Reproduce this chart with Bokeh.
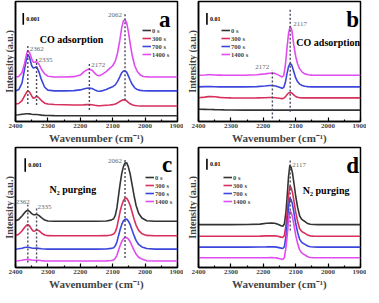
from bokeh.plotting import figure
from bokeh.models import Range1d, FixedTicker, Label, Legend, LegendItem
from bokeh.layouts import gridplot
from bokeh.embed import file_html
from bokeh.resources import INLINE

SERIES = ["0 s", "300 s", "700 s", "1400 s"]
COLORS = ["#333333", "#d8305c", "#3c46dc", "#e04cf0"]
XTICKS = [2400, 2300, 2200, 2100, 2000, 1900]
XMINOR = [2350, 2250, 2150, 2050, 1950]

# ---------------- panel a : CO adsorption (units of 0.001) ----------------
wn_a = [2400, 2390, 2380, 2372, 2366, 2362, 2357, 2350, 2345, 2340,
        2335, 2328, 2320, 2310, 2300, 2280, 2250, 2220, 2200, 2190,
        2180, 2172, 2164, 2155, 2147, 2140, 2130, 2120, 2110, 2100,
        2092, 2085, 2078, 2072, 2067, 2062, 2057, 2052, 2046, 2040,
        2032, 2024, 2015, 2005, 1990, 1970, 1940, 1900]
a_0s = [0.56, 0.58, 0.62, 0.65, 0.67, 0.67, 0.66, 0.62, 0.6, 0.6,
        0.6, 0.58, 0.55, 0.53, 0.52, 0.51, 0.5, 0.5, 0.5, 0.5,
        0.5, 0.5, 0.5, 0.5, 0.5, 0.5, 0.5, 0.5, 0.5, 0.5,
        0.5, 0.5, 0.5, 0.5, 0.5, 0.5, 0.5, 0.5, 0.5, 0.5,
        0.5, 0.5, 0.5, 0.5, 0.5, 0.5, 0.5, 0.5]
a_300s = [1.5, 1.55, 1.8, 2.2, 2.5, 2.64, 2.55, 2.2, 2.0, 2.05,
          2.17, 2.05, 1.8, 1.58, 1.5, 1.46, 1.44, 1.42, 1.42, 1.43,
          1.45, 1.46, 1.44, 1.4, 1.37, 1.36, 1.38, 1.4, 1.42, 1.45,
          1.5, 1.6, 1.72, 1.82, 1.86, 1.85, 1.78, 1.65, 1.52, 1.44,
          1.38, 1.35, 1.34, 1.33, 1.33, 1.33, 1.33, 1.33]
a_700s = [2.62, 2.75, 3.3, 4.5, 5.4, 5.75, 5.55, 4.8, 4.6, 4.65,
          4.72, 4.3, 3.6, 2.95, 2.7, 2.64, 2.64, 2.66, 2.72, 2.8,
          2.86, 2.87, 2.84, 2.72, 2.62, 2.6, 2.66, 2.76, 2.88, 3.0,
          3.15, 3.45, 3.85, 4.2, 4.35, 4.36, 4.25, 3.95, 3.55, 3.2,
          2.9, 2.75, 2.68, 2.65, 2.64, 2.64, 2.64, 2.64]
a_1400s = [3.83, 3.88, 4.2, 5.0, 5.8, 6.1, 5.95, 5.4, 5.1, 5.1,
           5.17, 4.95, 4.5, 4.1, 3.9, 3.83, 3.83, 3.86, 4.0, 4.25,
           4.45, 4.5, 4.42, 4.15, 3.96, 3.95, 4.1, 4.3, 4.55, 4.8,
           5.2, 5.9, 7.0, 8.1, 8.65, 8.75, 8.5, 7.8, 6.7, 5.7,
           4.8, 4.3, 4.0, 3.88, 3.84, 3.83, 3.83, 3.83]
peaks_a = [2362, 2335, 2172, 2062]

# ---------------- panel b : CO adsorption (units of 0.01) ----------------
wn_b = [2400, 2380, 2370, 2362, 2350, 2335, 2320, 2300, 2260, 2220,
        2195, 2180, 2172, 2162, 2150, 2142, 2137, 2132, 2127, 2122,
        2117, 2112, 2106, 2100, 2094, 2088, 2080, 2072, 2062, 2050,
        2030, 2000, 1960, 1900]
b_0s = [1.06, 1.04, 1.03, 1.03, 1.02, 1.01, 1.0, 0.99, 0.98, 0.98,
        0.98, 0.98, 0.98, 0.98, 0.98, 0.98, 0.98, 0.98, 0.98, 0.98,
        0.98, 0.98, 0.98, 0.98, 0.98, 0.98, 0.98, 0.98, 0.98, 0.98,
        0.98, 0.98, 0.98, 0.98]
b_300s = [2.05, 2.1, 2.14, 2.15, 2.13, 2.08, 2.05, 2.03, 2.02, 2.03,
          2.05, 2.06, 2.06, 2.04, 2.0, 1.97, 2.0, 2.12, 2.3, 2.45,
          2.5, 2.45, 2.3, 2.15, 2.08, 2.05, 2.03, 2.03, 2.03, 2.03,
          2.03, 2.03, 2.03, 2.03]
b_700s = [2.98, 3.0, 3.0, 3.0, 2.99, 2.98, 2.98, 2.98, 2.98, 3.0,
          3.05, 3.1, 3.1, 3.06, 2.95, 2.86, 2.92, 3.35, 4.1, 4.75,
          5.0, 4.85, 4.3, 3.75, 3.42, 3.22, 3.1, 3.04, 3.0, 2.98,
          2.98, 2.98, 2.98, 2.98]
b_1400s = [3.98, 4.0, 4.02, 4.03, 4.0, 3.99, 3.98, 3.98, 3.98, 4.02,
           4.1, 4.16, 4.17, 4.12, 3.95, 3.83, 3.95, 4.8, 6.3, 7.6,
           8.19, 7.9, 6.6, 5.6, 4.95, 4.55, 4.25, 4.1, 4.02, 3.99,
           3.98, 3.98, 3.98, 3.98]
peaks_b = [2117, 2172]

# ---------------- panel c : N2 purging (units of 0.001) ----------------
wn_c = [2400, 2390, 2380, 2372, 2366, 2362, 2357, 2350, 2345, 2340,
        2335, 2328, 2320, 2310, 2300, 2280, 2250, 2200, 2150, 2120,
        2105, 2097, 2092, 2087, 2082, 2077, 2072, 2067, 2062, 2057,
        2052, 2046, 2040, 2034, 2028, 2020, 2010, 1995, 1970, 1940, 1900]
c_0s = [3.45, 3.55, 3.8, 4.05, 4.18, 4.21, 4.15, 3.98, 3.9, 3.9,
        3.93, 3.85, 3.68, 3.5, 3.43, 3.41, 3.41, 3.41, 3.41, 3.43,
        3.5, 3.6, 3.85, 4.4, 5.3, 6.2, 6.95, 7.45, 7.72, 7.74,
        7.45, 6.9, 6.1, 5.3, 4.6, 4.0, 3.65, 3.45, 3.41, 3.41, 3.41]
c_300s = [2.36, 2.45, 2.7, 2.95, 3.12, 3.16, 3.08, 2.82, 2.68, 2.7,
          2.8, 2.72, 2.55, 2.4, 2.35, 2.34, 2.34, 2.34, 2.34, 2.35,
          2.4, 2.47, 2.63, 2.98, 3.55, 4.15, 4.6, 4.93, 5.1, 5.12,
          4.93, 4.58, 4.08, 3.57, 3.13, 2.74, 2.5, 2.37, 2.34, 2.34, 2.34]
c_700s = [1.36, 1.38, 1.42, 1.47, 1.5, 1.5, 1.48, 1.44, 1.42, 1.42,
          1.43, 1.41, 1.39, 1.37, 1.36, 1.36, 1.36, 1.36, 1.36, 1.37,
          1.41, 1.46, 1.6, 1.88, 2.35, 2.8, 3.18, 3.44, 3.56, 3.57,
          3.44, 3.16, 2.75, 2.35, 2.0, 1.7, 1.52, 1.4, 1.36, 1.36, 1.36]
c_1400s = [0.48, 0.5, 0.53, 0.57, 0.59, 0.59, 0.58, 0.55, 0.53, 0.53,
           0.54, 0.53, 0.51, 0.49, 0.48, 0.48, 0.48, 0.48, 0.48, 0.49,
           0.52, 0.56, 0.68, 0.9, 1.27, 1.62, 1.92, 2.12, 2.2, 2.21,
           2.12, 1.9, 1.58, 1.27, 1.0, 0.76, 0.62, 0.5, 0.48, 0.48, 0.48]
peaks_c = [2362, 2335, 2062]

# ---------------- panel d : N2 purging (units of 0.01) ----------------
wn_d = [2400, 2300, 2250, 2210, 2190, 2175, 2165, 2155, 2145, 2140,
        2135, 2130, 2126, 2122, 2118, 2114, 2110, 2105, 2100, 2094,
        2088, 2082, 2076, 2070, 2063, 2055, 2045, 2030, 2000, 1950, 1900]
d_0s = [3.85, 3.85, 3.86, 3.9, 3.97, 4.0, 3.98, 3.88, 3.75, 3.71,
        3.9, 5.0, 6.5, 8.2, 9.19, 9.0, 8.5, 7.5, 6.4, 5.4,
        4.65, 4.35, 4.22, 4.1, 3.95, 3.88, 3.86, 3.85, 3.85, 3.85, 3.85]
d_300s = [2.81, 2.81, 2.81, 2.82, 2.84, 2.85, 2.84, 2.8, 2.73, 2.7,
          2.86, 3.8, 5.05, 6.5, 7.33, 7.17, 6.75, 5.9, 4.98, 4.13,
          3.5, 3.25, 3.14, 3.04, 2.91, 2.84, 2.82, 2.81, 2.81, 2.81, 2.81]
d_700s = [1.83, 1.83, 1.83, 1.84, 1.85, 1.86, 1.85, 1.81, 1.74, 1.71,
          1.87, 2.8, 4.0, 5.45, 6.23, 6.08, 5.68, 4.85, 3.95, 3.15,
          2.55, 2.28, 2.15, 2.05, 1.93, 1.86, 1.84, 1.83, 1.83, 1.83, 1.83]
d_1400s = [0.87, 0.87, 0.87, 0.87, 0.88, 0.89, 0.88, 0.84, 0.76, 0.72,
           0.88, 1.8, 2.95, 4.3, 5.07, 4.93, 4.55, 3.75, 2.9, 2.15,
           1.6, 1.33, 1.2, 1.1, 0.97, 0.9, 0.88, 0.87, 0.87, 0.87, 0.87]
peaks_d = [2117]

# ---------------- layout / annotation placement ----------------
FIG_W, FIG_H = 183, 146
BL, BR, BT, BB = 14, 6, 1, 24
FRAME_H = FIG_H - BT - BB
SERIF = "Liberation Serif"

panels = [
    dict(wn=wn_a, ys=[a_0s, a_300s, a_700s, a_1400s], ytop=10.33, peaks=peaks_a,
         dash=[(1.5, 6.58), (1.42, 5.42), (1.0, 5.0), (1.83, 9.33)],
         plab=[("left", 2, 6.25), ("left", 2, 5.33), ("left", 2, 4.83), ("right", -3, 9.17)],
         bar=(2376, 8.33), barlab="0.001", letter=("a", 1939, 8.8),
         title=("CO adsorption", 2325, 7.08), leg=(127, 30)),
    dict(wn=wn_b, ys=[b_0s, b_300s, b_700s, b_1400s], ytop=10.33, peaks=peaks_b,
         dash=[(0.83, 9.75), (0.25, 4.42)],
         plab=[("left", 3, 8.42), ("right", -3, 4.67)],
         bar=(2374, 8.33), barlab="0.01", letter=("b", 1924, 8.75),
         title=("CO adsorption", 2098, 6.8), leg=(23, 30)),
    dict(wn=wn_c, ys=[c_0s, c_300s, c_700s, c_1400s], ytop=8.86, peaks=peaks_c,
         dash=[(0.36, 4.64), (0.36, 4.43), (0.71, 8.07)],
         plab=[("right", 2, 4.86), ("left", 1, 4.5), ("right", -3, 7.86)],
         bar=(2370, 7.07), barlab="0.001", letter=("c", 1932, 7.62),
         title=("N\u2082 purging", 2295, 5.76), leg=(130, 31)),
    dict(wn=wn_d, ys=[d_0s, d_300s, d_700s, d_1400s], ytop=10.78, peaks=peaks_d,
         dash=[(3.33, 9.71)],
         plab=[("left", 2, 9.19)],
         bar=(2374, 8.78), barlab="0.01", letter=("d", 1924, 9.13),
         title=("N\u2082 purging", 2078, 6.96), leg=(25, 31)),
]


def make_panel(cfg):
    p = figure(width=FIG_W, height=FIG_H, output_backend="svg", toolbar_location=None,
               x_range=Range1d(2400, 1900), y_range=Range1d(0, cfg["ytop"]),
               min_border_left=BL, min_border_right=BR, min_border_top=BT,
               min_border_bottom=BB)
    p.grid.visible = False
    p.outline_line_color = "black"
    p.outline_line_width = 1.5
    p.background_fill_color = "white"
    p.border_fill_color = "white"

    xa = p.xaxis[0]
    xa.ticker = FixedTicker(ticks=XTICKS, minor_ticks=XMINOR)
    xa.major_tick_in = 4
    xa.major_tick_out = 0
    xa.minor_tick_in = 2
    xa.minor_tick_out = 0
    xa.major_tick_line_width = 1.2
    xa.minor_tick_line_width = 1.2
    xa.axis_line_width = 1.5
    xa.major_label_text_font = SERIF
    xa.major_label_text_font_style = "bold"
    xa.major_label_text_font_size = "7px"
    xa.major_label_standoff = 2
    xa.axis_label = "Wavenumber (cm\u207b\u00b9)"
    xa.axis_label_text_font = SERIF
    xa.axis_label_text_font_style = "bold"
    xa.axis_label_text_font_size = "11px"
    xa.axis_label_standoff = 1

    ya = p.yaxis[0]
    ya.ticker = FixedTicker(ticks=[])
    ya.major_tick_out = 0
    ya.minor_tick_out = 0
    ya.axis_line_width = 1.5
    ya.major_label_standoff = 0
    ya.axis_label = "Intensity (a.u.)"
    ya.axis_label_text_font = SERIF
    ya.axis_label_text_font_style = "bold"
    ya.axis_label_text_font_size = "10px"
    ya.axis_label_standoff = 1

    wn = cfg["wn"]
    renderers = []
    for ys, col in zip(cfg["ys"], COLORS):
        r = p.line(wn, ys, line_color=col, line_width=1.6)
        renderers.append(r)

    # dashed peak markers
    for pk, (y0, y1), (al, off, ly) in zip(cfg["peaks"], cfg["dash"], cfg["plab"]):
        p.segment(x0=[pk], y0=[y0], x1=[pk], y1=[y1], line_color="#4a4a5a",
                  line_width=1.4, line_dash="2 2")
        p.add_layout(Label(x=pk, y=ly, text=str(pk), x_offset=off, text_align=al,
                           text_baseline="middle", text_font=SERIF,
                           text_font_size="7px", text_color="#6a6a6a"))

    # scale bar
    bx, by = cfg["bar"]
    p.segment(x0=[bx], y0=[by], x1=[bx], y1=[by + 1], line_color="black", line_width=1.6)
    p.add_layout(Label(x=bx, y=by + 0.5, text=cfg["barlab"], x_offset=3,
                       text_align="left", text_baseline="middle", text_font=SERIF,
                       text_font_style="bold", text_font_size="6px", text_color="black"))

    # panel letter and title
    lt, lx, ly = cfg["letter"]
    p.add_layout(Label(x=lx, y=ly, text=lt, text_align="center",
                       text_baseline="alphabetic", text_font=SERIF,
                       text_font_style="bold", text_font_size="23px", text_color="black"))
    tt, tx, ty = cfg["title"]
    p.add_layout(Label(x=tx, y=ty, text=tt, text_align="left",
                       text_baseline="alphabetic", text_font=SERIF,
                       text_font_style="bold", text_font_size="10px", text_color="black"))

    # legend
    row_h = 8
    lx0, top = cfg["leg"]
    items = [LegendItem(label=s, renderers=[r]) for s, r in zip(SERIES, renderers)]
    legend = Legend(items=items, location=(lx0, FRAME_H - (top - row_h // 2) - 4 * row_h),
                    orientation="vertical", background_fill_alpha=0, border_line_alpha=0,
                    label_text_font=SERIF, label_text_font_style="bold",
                    label_text_font_size="6.5px", glyph_width=9, glyph_height=row_h,
                    label_height=row_h, label_standoff=1, spacing=0, padding=0, margin=0)
    p.add_layout(legend)
    return p


figs = [make_panel(c) for c in panels]
grid = gridplot([[figs[0], figs[1]], [figs[2], figs[3]]], toolbar_location=None)

open("out.html", "w").write(file_html(grid, INLINE))
